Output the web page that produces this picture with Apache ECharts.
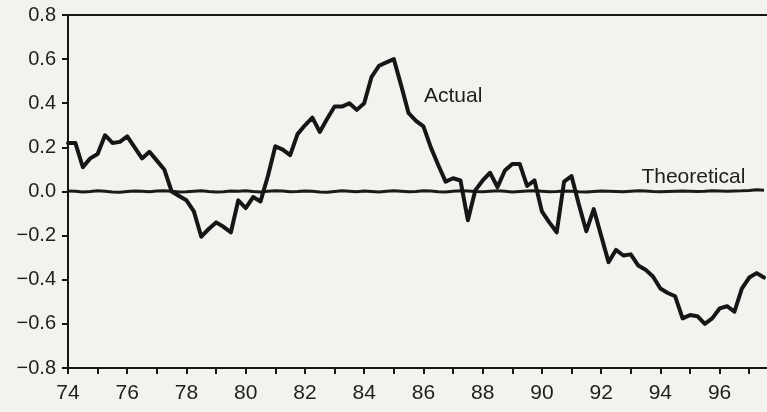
<!DOCTYPE html>
<html>
<head>
<meta charset="utf-8">
<script src="https://cdn.jsdelivr.net/npm/echarts@6/dist/echarts.min.js"></script>
<style>
  html, body { margin: 0; padding: 0; background: #f2f2ee; }
  #chart { width: 767px; height: 412px; }
</style>
</head>
<body>
<div id="chart"></div>
<script>
// Quarterly series, first observation in 1974 Q1
const startYear = 74;
const stepYears = 0.25;

const actual = [
  0.22, 0.22, 0.11, 0.15, 0.17, 0.255, 0.22, 0.225, 0.25, 0.20,
  0.15, 0.18, 0.14, 0.10, 0.00, -0.02, -0.04, -0.09, -0.205, -0.17,
  -0.14, -0.16, -0.185, -0.04, -0.075, -0.025, -0.045, 0.07, 0.205, 0.19,
  0.165, 0.26, 0.30, 0.335, 0.27, 0.33, 0.385, 0.385, 0.40, 0.37,
  0.40, 0.52, 0.57, 0.585, 0.60, 0.48, 0.355, 0.32, 0.295, 0.20,
  0.12, 0.045, 0.06, 0.05, -0.13, 0.005, 0.05, 0.085, 0.02, 0.095,
  0.125, 0.125, 0.025, 0.05, -0.09, -0.14, -0.185, 0.045, 0.07, -0.06,
  -0.18, -0.08, -0.20, -0.32, -0.265, -0.29, -0.285, -0.335, -0.355, -0.385,
  -0.44, -0.46, -0.475, -0.575, -0.56, -0.565, -0.60, -0.575, -0.53, -0.52,
  -0.545, -0.44, -0.39, -0.37, -0.39
];

const theoretical = [
  0.002, 0.001, -0.002, 0.000, 0.003, 0.001, -0.002, -0.003, 0.000, 0.002,
  0.001, -0.001, 0.002, 0.003, 0.001, -0.002, -0.001, 0.001, 0.003, 0.000,
  -0.002, -0.001, 0.002, 0.001, 0.003, 0.000, -0.002, 0.001, 0.003, 0.002,
  -0.001, 0.000, 0.002, 0.001, -0.002, -0.003, 0.000, 0.003, 0.001, -0.001,
  0.002, 0.000, -0.002, 0.001, 0.003, 0.001, -0.001, 0.000, 0.003, 0.002,
  -0.001, -0.002, 0.001, 0.003, 0.002, 0.000, -0.001, 0.001, 0.003, 0.001,
  -0.002, 0.000, 0.002, 0.003, 0.001, -0.001, 0.000, 0.002, 0.001, -0.001,
  -0.002, 0.000, 0.002, 0.001, 0.000, -0.001, 0.001, 0.003, 0.002, 0.000,
  -0.001, 0.000, 0.001, 0.002, 0.001, 0.000, 0.001, 0.003, 0.002, 0.001,
  0.002, 0.003, 0.005, 0.008, 0.006
];

const seriesNames = ['Actual', 'Theoretical'];
const xRange = [74, 97.6];
const yRange = [-0.8, 0.8];

const ink = '#161616';
const textColor = '#1e1e1e';
const fontFamily = '"Liberation Sans", Arial, sans-serif';

const toPoints = arr => arr.map((v, i) => [startYear + i * stepYears, v]);

// Only even whole years carry a label
const yearLabel = v => {
  const r = Math.round(v);
  return Math.abs(v - r) < 1e-6 && r % 2 === 0 ? String(r) : '';
};

const chart = echarts.init(document.getElementById('chart'), null, { renderer: 'canvas' });

chart.setOption({
  backgroundColor: '#f2f2ee',
  animation: false,
  grid: { left: 68, right: 0, top: 15, bottom: 44, containLabel: false, outerBoundsMode: 'none' },
  xAxis: [
    {
      type: 'value',
      min: xRange[0],
      max: xRange[1],
      interval: 1,
      axisLine: { show: true, onZero: false, lineStyle: { color: ink, width: 2 } },
      axisTick: { show: true, length: 6, lineStyle: { color: ink, width: 2 } },
      axisLabel: {
        formatter: yearLabel,
        showMaxLabel: false,
        fontSize: 21, fontFamily, color: textColor, margin: 15
      },
      splitLine: { show: false }
    },
    {
      type: 'value',
      position: 'top',
      min: xRange[0],
      max: xRange[1],
      axisLine: { show: true, onZero: false, lineStyle: { color: ink, width: 2 } },
      axisTick: { show: false },
      axisLabel: { show: false },
      splitLine: { show: false }
    }
  ],
  yAxis: {
    type: 'value',
    min: yRange[0],
    max: yRange[1],
    interval: 0.2,
    axisLine: { show: true, onZero: false, lineStyle: { color: ink, width: 2 } },
    axisTick: { show: true, length: 6, lineStyle: { color: ink, width: 2 } },
    axisLabel: {
      formatter: v => (v < -1e-9 ? '\u2212' : '') + Math.abs(v).toFixed(1),
      fontSize: 20, fontFamily, color: textColor, margin: 12
    },
    splitLine: { show: false }
  },
  series: [
    {
      name: seriesNames[1],
      type: 'line',
      data: toPoints(theoretical),
      showSymbol: false,
      lineStyle: { color: '#1c1a16', width: 3 },
      z: 2
    },
    {
      name: seriesNames[0],
      type: 'line',
      data: toPoints(actual),
      showSymbol: false,
      lineStyle: { color: ink, width: 4, join: 'round', cap: 'round' },
      z: 3
    }
  ]
});

// Series name annotations placed in data space
const annotations = [
  { text: seriesNames[0], at: [86.02, 0.43] },
  { text: seriesNames[1], at: [93.36, 0.066] }
];
chart.setOption({
  graphic: annotations.map(a => {
    const p = chart.convertToPixel({ gridIndex: 0 }, a.at);
    return {
      type: 'text',
      x: p[0],
      y: p[1],
      style: {
        text: a.text,
        fill: textColor,
        font: '21px ' + fontFamily,
        textAlign: 'left',
        textVerticalAlign: 'middle'
      }
    };
  })
});
</script>
</body>
</html>
